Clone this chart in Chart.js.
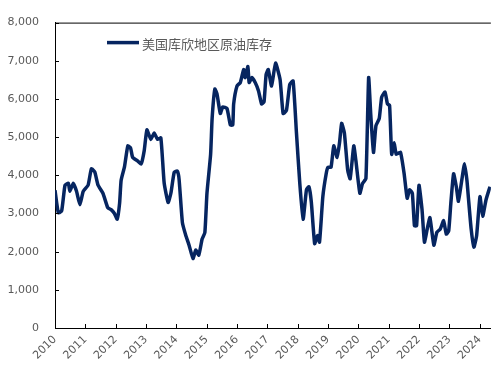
<!DOCTYPE html>
<html>
<head>
<meta charset="utf-8">
<script src="https://cdn.jsdelivr.net/npm/chart.js@4/dist/chart.umd.min.js"></script>
<style>
  html, body { margin: 0; padding: 0; background: #ffffff; }
  #c { display: block; }
</style>
</head>
<body>
<canvas id="c" width="494" height="367"></canvas>
<script>
// ---- data ----
const seriesName = "美国库欣地区原油库存";
const dates = [
  2010.00, 2010.11, 2010.22, 2010.33, 2010.44, 2010.49, 2010.60, 2010.71, 2010.82, 2010.93,
  2011.09, 2011.20, 2011.31, 2011.42, 2011.58, 2011.74, 2011.85, 2011.96,
  2012.05, 2012.13, 2012.18, 2012.29, 2012.40, 2012.49, 2012.56, 2012.72, 2012.84, 2012.94,
  2013.03, 2013.16, 2013.27, 2013.38, 2013.49, 2013.60, 2013.73, 2013.82, 2013.93,
  2014.03, 2014.09, 2014.20, 2014.31, 2014.42, 2014.55, 2014.64, 2014.74, 2014.85, 2014.94,
  2015.01, 2015.13, 2015.18, 2015.27, 2015.34, 2015.45, 2015.53, 2015.67, 2015.78, 2015.86, 2015.89,
  2016.00, 2016.11, 2016.22, 2016.27, 2016.36, 2016.40, 2016.49, 2016.60, 2016.71, 2016.81, 2016.89, 2016.96,
  2017.03, 2017.14, 2017.27, 2017.42, 2017.52, 2017.63, 2017.74, 2017.85, 2017.96,
  2018.07, 2018.18, 2018.29, 2018.37, 2018.45, 2018.56, 2018.65, 2018.72, 2018.83, 2018.94,
  2019.00, 2019.10, 2019.19, 2019.30, 2019.38, 2019.45, 2019.54, 2019.65, 2019.73, 2019.85, 2019.92,
  2020.05, 2020.14, 2020.25, 2020.34, 2020.41, 2020.50, 2020.58, 2020.69, 2020.77, 2020.88, 2020.96,
  2021.03, 2021.10, 2021.18, 2021.25, 2021.39, 2021.51, 2021.61, 2021.69, 2021.78, 2021.85, 2021.92,
  2022.00, 2022.10, 2022.18, 2022.27, 2022.36, 2022.49, 2022.59, 2022.70, 2022.81, 2022.90, 2022.98,
  2023.05, 2023.14, 2023.23, 2023.30, 2023.41, 2023.50, 2023.58, 2023.63, 2023.72, 2023.81, 2023.90,
  2024.01, 2024.10, 2024.21, 2024.34
];
const stocks = [
  3610, 3020, 3070, 3740, 3790, 3580, 3790, 3580, 3230, 3580,
  3740, 4170, 4090, 3740, 3530, 3150, 3100, 3000,
  2850, 3270, 3870, 4220, 4770, 4720, 4470, 4380, 4300, 4640,
  5190, 4940, 5110, 4940, 4980, 3790, 3290, 3530, 4080,
  4110, 3900, 2760, 2430, 2170, 1820, 2040, 1910, 2330, 2500,
  3530, 4550, 5490, 6260, 6130, 5620, 5790, 5750, 5320, 5320, 5870,
  6340, 6430, 6770, 6560, 6850, 6430, 6560, 6430, 6210, 5870, 5920, 6640,
  6770, 6340, 6940, 6510, 5620, 5700, 6380, 6470, 5110,
  3790, 2850, 3620, 3700, 3300, 2210, 2420, 2250, 3440, 4040,
  4210, 4210, 4770, 4470, 4850, 5360, 5110, 4130, 3910, 4770, 4380,
  3530, 3790, 3910, 6560, 5580, 4600, 5300, 5490, 6050, 6180, 5870,
  5830, 4550, 4850, 4550, 4600, 4040, 3400, 3620, 3530, 2680, 2680,
  3740, 3100, 2250, 2590, 2890, 2170, 2510, 2590, 2810, 2460, 2550,
  3270, 4040, 3700, 3320, 3870, 4300, 3870, 3400, 2590, 2120, 2420,
  3440, 2930, 3360, 3700
];
const xTickYears = [2010, 2011, 2012, 2013, 2014, 2015, 2016, 2017, 2018, 2019, 2020, 2021, 2022, 2023, 2024];
const yTickValues = [0, 1000, 2000, 3000, 4000, 5000, 6000, 7000, 8000];

const LINE_COLOR = '#062560';
const TEXT_COLOR = '#595959';

const framePlugin = {
  id: 'frame',
  afterDraw(chart) {
    const ctx = chart.ctx;
    const a = chart.chartArea;
    ctx.save();
    ctx.strokeStyle = '#000000';
    ctx.lineWidth = 1;
    ctx.beginPath();
    ctx.moveTo(a.left, a.top + 0.5);
    ctx.lineTo(a.right, a.top + 0.5);
    ctx.stroke();
    const ys = chart.scales.y;
    ys.ticks.forEach(t => {
      const py = Math.round(ys.getPixelForValue(t.value)) + 0.5;
      ctx.beginPath();
      ctx.moveTo(a.left, py);
      ctx.lineTo(a.left + 4, py);
      ctx.stroke();
    });
    const xs = chart.scales.x;
    xs.ticks.forEach(t => {
      const px = Math.round(xs.getPixelForValue(t.value)) + 0.5;
      ctx.beginPath();
      ctx.moveTo(px, a.bottom);
      ctx.lineTo(px, a.bottom - 4);
      ctx.stroke();
    });
    const lx = a.left + 52, ly = a.top + 20;
    ctx.strokeStyle = LINE_COLOR;
    ctx.lineWidth = 3.5;
    ctx.beginPath();
    ctx.moveTo(lx, ly);
    ctx.lineTo(lx + 32, ly);
    ctx.stroke();
    ctx.fillStyle = TEXT_COLOR;
    ctx.font = '13px "Noto Sans CJK SC", sans-serif';
    ctx.textBaseline = 'middle';
    ctx.textAlign = 'left';
    ctx.fillText(chart.data.datasets[0].label, lx + 35, ly + 1);
    ctx.restore();
  }
};

new Chart(document.getElementById('c'), {
  type: 'line',
  data: {
    datasets: [{
      label: seriesName,
      data: dates.map((d, i) => ({ x: d, y: stocks[i] })),
      borderColor: LINE_COLOR,
      borderWidth: 3.5,
      pointRadius: 0,
      tension: 0.15,
      borderJoinStyle: 'round',
      fill: false
    }]
  },
  options: {
    responsive: false,
    animation: false,
    devicePixelRatio: 1,
    layout: { padding: { top: 15, right: 0, left: 0, bottom: 0 } },
    plugins: {
      legend: { display: false },
      tooltip: { enabled: false }
    },
    scales: {
      x: {
        type: 'linear',
        min: 2010,
        max: 2024.37,
        afterBuildTicks: s => { s.ticks = xTickYears.map(v => ({ value: v })); },
        afterFit: s => { s.height = 39; },
        grid: { display: true, drawOnChartArea: false, drawTicks: false },
        border: { display: true, color: '#000000', width: 1 },
        ticks: {
          autoSkip: false,
          maxRotation: 45,
          minRotation: 45,
          padding: 5,
          color: TEXT_COLOR,
          font: { family: 'DejaVu Sans', size: 11 },
          callback: v => String(v)
        }
      },
      y: {
        min: 0,
        max: 8000,
        afterBuildTicks: s => { s.ticks = yTickValues.map(v => ({ value: v })); },
        afterFit: s => { s.width = 55; },
        grid: { display: true, drawOnChartArea: false, drawTicks: false },
        border: { display: true, color: '#000000', width: 1 },
        ticks: {
          padding: 16,
          color: TEXT_COLOR,
          font: { family: 'DejaVu Sans', size: 11 },
          callback: v => v.toLocaleString('en-US')
        }
      }
    }
  },
  plugins: [framePlugin]
});
</script>
</body>
</html>
